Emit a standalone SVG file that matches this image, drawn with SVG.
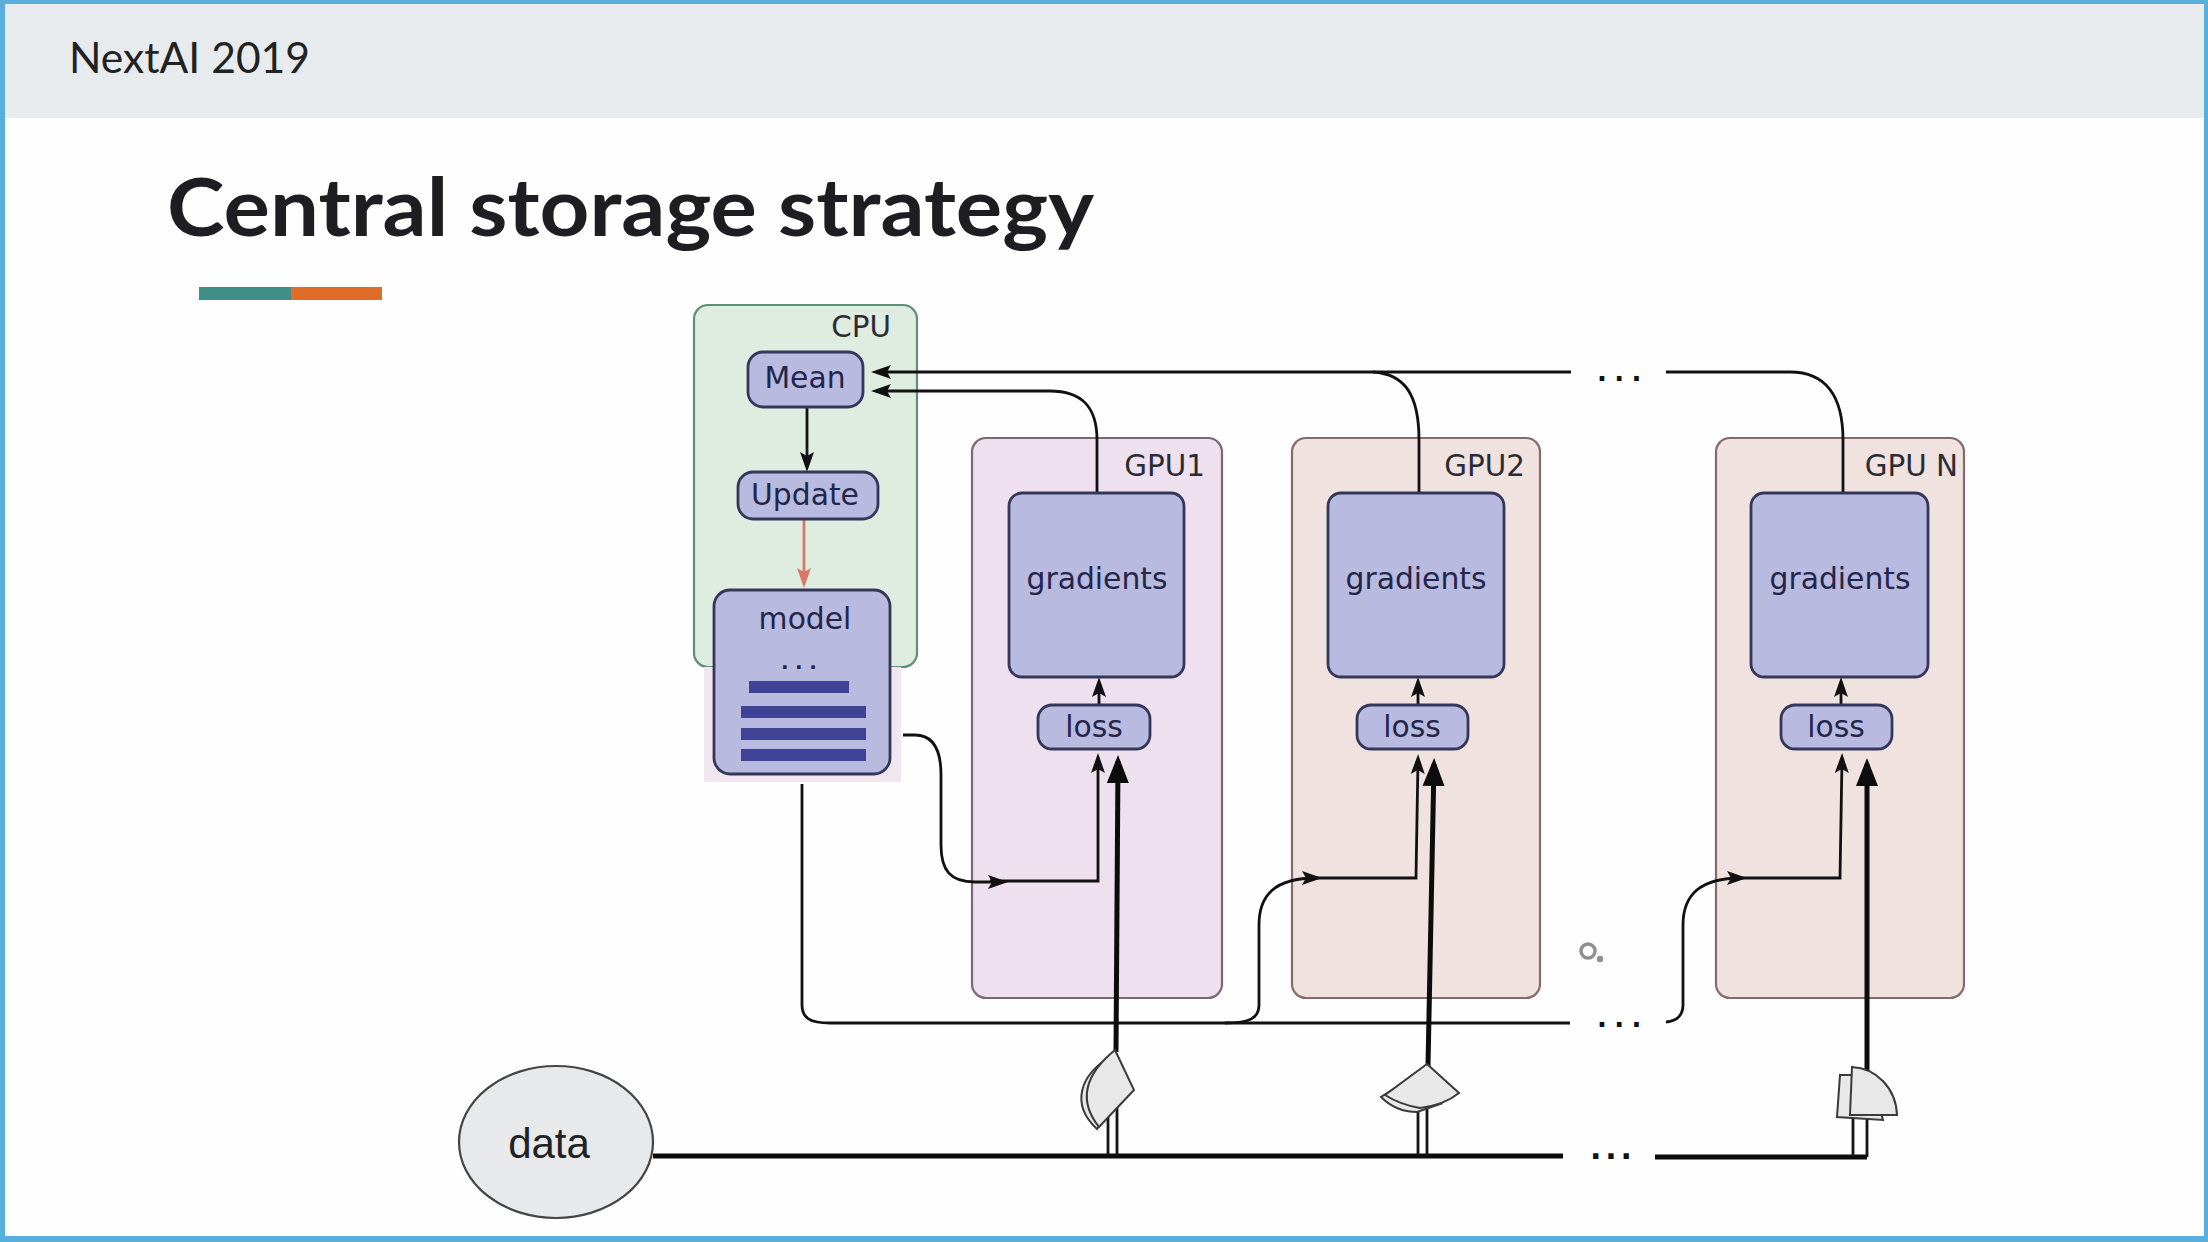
<svg xmlns="http://www.w3.org/2000/svg" width="2208" height="1242" viewBox="0 0 2208 1242">
<style>
.cont{stroke-width:2.2}
.box{fill:#b8badf;stroke:#34365a;stroke-width:2.8}
.lbl{font-family:"DejaVu Sans",sans-serif;font-size:29.8px;fill:#23264a;text-anchor:middle}
.tag{font-family:"DejaVu Sans",sans-serif;font-size:29.4px;fill:#2b2b33;text-anchor:end}
.dots{font-family:"DejaVu Sans",sans-serif;font-weight:bold;font-size:26px;letter-spacing:7.4px;fill:#111}
.thin{fill:none;stroke:#111;stroke-width:2.8}
.thick{fill:none;stroke:#0c0c0c;stroke-width:5}
.gate{fill:#e8e8e8;stroke:#3a3a3a;stroke-width:2}
.stem{fill:none;stroke:#151515;stroke-width:2.8}
</style>
<defs>
<marker id="head" markerUnits="userSpaceOnUse" markerWidth="26" markerHeight="20" refX="14" refY="10" orient="auto"><path d="M0 3L20 10L0 17L4 10Z" fill="#111"/></marker>
<marker id="headRed" markerUnits="userSpaceOnUse" markerWidth="24" markerHeight="20" refX="13" refY="10" orient="auto"><path d="M0 3L20 10L0 17L4 10Z" fill="#d6796b"/></marker>
<marker id="headBig" markerUnits="userSpaceOnUse" markerWidth="34" markerHeight="26" refX="22" refY="13" orient="auto"><path d="M0 2L28 13L0 24Z" fill="#0c0c0c"/></marker>
</defs>

<rect width="2208" height="1242" fill="#fefefe"/>
<g id="frame">
<rect x="0" y="0" width="2208" height="118" fill="#e8ebee"/>
<rect x="0" y="0" width="2208" height="4" fill="#5aaedb"/>
<rect x="0" y="0" width="5" height="1242" fill="#5aaedb"/>
<rect x="2204" y="0" width="4" height="1242" fill="#5aaedb"/>
<rect x="0" y="1236" width="2208" height="6" fill="#5aaedb"/>
</g>
<text x="69" y="73" font-family="Lato, sans-serif" font-size="42" fill="#222" textLength="241" lengthAdjust="spacingAndGlyphs">NextAI 2019</text>
<text x="167" y="236" font-family="Lato, sans-serif" font-weight="bold" font-size="80" fill="#1d1d22" textLength="927" lengthAdjust="spacingAndGlyphs">Central storage strategy</text>
<g id="accent">
<rect x="199" y="287" width="92" height="13" fill="#3f8f88"/>
<rect x="291" y="287" width="91" height="13" fill="#e06c2a"/>
</g>

<g id="cpu">
<rect class="cont" x="694" y="305" width="223" height="362" rx="14" fill="#dfece0" stroke="#5f8f78"/>
<text class="tag" x="891" y="337">CPU</text>
</g>
<g id="gpu1-box">
<rect class="cont" x="972" y="438" width="250" height="560" rx="14" fill="#eee0ee" stroke="#7d6677"/>
<text class="tag" x="1205" y="476">GPU1</text>
</g>
<g id="gpu2-box">
<rect class="cont" x="1292" y="438" width="248" height="560" rx="14" fill="#f0e2de" stroke="#86696c"/>
<text class="tag" x="1525" y="476">GPU2</text>
</g>
<g id="gpun-box">
<rect class="cont" x="1716" y="438" width="248" height="560" rx="14" fill="#f0e2de" stroke="#86696c"/>
<text class="tag" x="1958" y="476">GPU N</text>
</g>

<g id="connectors">
<path class="thin" marker-end="url(#head)" d="M1571 372H877"/>
<path class="thin" d="M1666 372H1790C1825 372 1843 395 1843 440V493"/>
<path class="thin" d="M1373 372C1405 374 1419 395 1419 440V493"/>
<path class="thin" marker-end="url(#head)" d="M1097 493V440C1097 405 1080 391 1050 391H877"/>
<path class="thin" marker-end="url(#head)" d="M807 407V466"/>
<path fill="none" stroke="#d6796b" stroke-width="2.8" marker-end="url(#headRed)" d="M804 519V581"/>
<path class="thin" marker-end="url(#head)" d="M903 735H915C932 735 941 748 941 775V845C941 870 950 882 975 882H1002"/>
<path class="thin" marker-end="url(#head)" d="M990 881H1098V759"/>
<path class="thin" d="M802 784V1005C802 1018 810 1023 830 1023H1570"/>
<path class="thin" marker-end="url(#head)" d="M1225 1023C1250 1023 1259 1018 1259 1005V925C1259 895 1275 878 1316 878"/>
<path class="thin" marker-end="url(#head)" d="M1305 878H1416L1418 760"/>
<path class="thin" marker-end="url(#head)" d="M1666 1022C1678 1021 1683 1014 1683 1005V925C1683 895 1700 878 1741 878"/>
<path class="thin" marker-end="url(#head)" d="M1730 878H1840L1842 759"/>
<path class="thin" marker-end="url(#head)" d="M1099 705V683"/>
<path class="thin" marker-end="url(#head)" d="M1418 705V683"/>
<path class="thin" marker-end="url(#head)" d="M1841 705V683"/>
<path class="thick" marker-end="url(#headBig)" d="M1116 1052L1118 761"/>
<path class="thick" marker-end="url(#headBig)" d="M1428 1066L1434 764"/>
<path class="thick" marker-end="url(#headBig)" d="M1867 1070V764"/>
<path class="thick" d="M653 1156H1563"/>
<path class="thick" d="M1655 1157H1867" stroke-width="4"/>
<path class="stem" d="M1108 1115V1156M1117 1100V1156"/>
<path class="stem" d="M1418 1108V1156M1427 1108V1156"/>
<path class="stem" d="M1853 1112V1157M1867 1112V1157"/>
<text class="dots" x="1597" y="381">...</text>
<text class="dots" x="1597" y="1027">...</text>
<text class="dots" x="1590" y="1159" style="font-size:30px;letter-spacing:3.8px">...</text>
</g>

<g id="model">
<rect x="704" y="667" width="197" height="115" fill="#efe6f0"/>
<rect class="box" x="714" y="590" width="176" height="184" rx="16" stroke-width="3.4"/>
<text class="lbl" x="805" y="629">model</text>
<text class="dots" x="781" y="669" style="font-size:20px;letter-spacing:6.5px;fill:#23264a">...</text>
<rect x="749" y="681" width="100" height="12" fill="#3f4396"/>
<rect x="741" y="706" width="125" height="12" fill="#3f4396"/>
<rect x="741" y="728" width="125" height="12" fill="#3f4396"/>
<rect x="741" y="749" width="125" height="12" fill="#3f4396"/>
</g>
<g id="mean"><rect class="box" x="748" y="352" width="115" height="55" rx="15"/><text class="lbl" x="805" y="388">Mean</text></g>
<g id="update"><rect class="box" x="738" y="472" width="140" height="47" rx="15"/><text class="lbl" x="805" y="505">Update</text></g>
<g id="gradients1"><rect class="box" x="1009" y="493" width="175" height="184" rx="13"/><text class="lbl" x="1097" y="589">gradients</text></g>
<g id="gradients2"><rect class="box" x="1328" y="493" width="176" height="184" rx="13"/><text class="lbl" x="1416" y="589">gradients</text></g>
<g id="gradientsn"><rect class="box" x="1751" y="493" width="177" height="184" rx="13"/><text class="lbl" x="1840" y="589">gradients</text></g>
<g id="loss1"><rect class="box" x="1038" y="705" width="112" height="44" rx="14"/><text class="lbl" x="1094" y="737">loss</text></g>
<g id="loss2"><rect class="box" x="1357" y="705" width="111" height="44" rx="14"/><text class="lbl" x="1412" y="737">loss</text></g>
<g id="lossn"><rect class="box" x="1781" y="705" width="111" height="44" rx="14"/><text class="lbl" x="1836" y="737">loss</text></g>

<g id="data">
<ellipse cx="556" cy="1142" rx="97" ry="76" fill="#e8e9ea" stroke="#444" stroke-width="2.2"/>
<text x="549" y="1158" font-family="'Liberation Sans',Arial,sans-serif" font-size="42" fill="#222" text-anchor="middle">data</text>
</g>
<g id="gate1">
<path class="gate" d="M1111 1056C1080 1075 1070 1104 1097 1129L1113 1108Z"/>
<path class="gate" d="M1115 1050L1134 1090L1099 1127C1076 1098 1088 1072 1115 1050Z"/>
</g>
<g id="gate2">
<path class="gate" d="M1392 1090L1381 1097C1390 1106 1402 1112 1417 1112L1440 1104Z"/>
<path class="gate" d="M1427 1064L1459 1093C1448 1102 1436 1106 1420 1108C1408 1106 1396 1102 1385 1095Z"/>
</g>
<g id="gaten">
<path class="gate" d="M1840 1075L1837 1117L1883 1120L1870 1075Z"/>
<path class="gate" d="M1852 1067C1876 1068 1896 1088 1897 1115L1850 1115Z"/>
</g>
<g id="cursor" fill="none" stroke="#8f8f8f" stroke-width="3.4"><circle cx="1588" cy="951" r="7"/><circle cx="1600" cy="959" r="1.5" fill="#8f8f8f"/></g>
</svg>
